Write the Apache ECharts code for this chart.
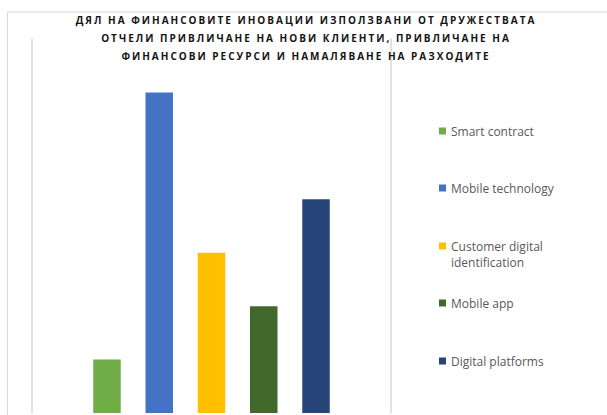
<!DOCTYPE html>
<html>
<head>
<meta charset="utf-8">
<script src="https://cdn.jsdelivr.net/npm/echarts@6/dist/echarts.min.js"></script>
<style>
  html, body { margin: 0; padding: 0; background: #ffffff; }
  #chart { width: 607px; height: 415px; }
  /* spaced capitals for the bold heading */
  #chart text[style*="bold"] { letter-spacing: 2px; }
</style>
</head>
<body>
<div id="chart"></div>
<script>
// Innovation types and their values
const categories = ['Smart contract', 'Mobile technology', 'Customer digital identification', 'Mobile app', 'Digital platforms'];
const values = [1, 6, 3, 2, 4];
const colors = ['#70AD47', '#4472C4', '#FFC000', '#43682B', '#264478'];
const titleLines = [
  'ДЯЛ НА ФИНАНСОВИТЕ ИНОВАЦИИ ИЗПОЛЗВАНИ ОТ ДРУЖЕСТВАТА',
  'ОТЧЕЛИ ПРИВЛИЧАНЕ НА НОВИ КЛИЕНТИ, ПРИВЛИЧАНЕ НА',
  'ФИНАНСОВИ РЕСУРСИ И НАМАЛЯВАНЕ НА РАЗХОДИТЕ'
];
// vertical position of each legend entry
const legendTops = [123, 180, 222, 295, 353];

const chart = echarts.init(document.getElementById('chart'), null, { renderer: 'svg' });

const legendFont = { fontFamily: 'Open Sans', fontSize: 12, color: '#595959', lineHeight: 16 };

const legends = categories.map((name, i) => {
  const twoLine = name === 'Customer digital identification';
  return {
    data: [name],
    orient: 'vertical',
    left: 439,
    top: legendTops[i],
    itemWidth: 7,
    itemHeight: 7,
    itemGap: 0,
    icon: 'rect',
    padding: 0,
    selectedMode: false,
    // the long name wraps below its marker: an empty first line keeps the
    // marker beside the first written line
    formatter: twoLine ? '\nCustomer digital\nidentification' : '{name}',
    textStyle: legendFont
  };
});

chart.setOption({
  animation: false,
  backgroundColor: '#ffffff',
  title: {
    text: titleLines.join('\n'),
    left: 306,
    top: 11,
    textAlign: 'center',
    padding: 0,
    textStyle: {
      fontFamily: 'Open Sans',
      fontWeight: 'bold',
      fontSize: 10,
      lineHeight: 18,
      color: '#141414'
    }
  },
  legend: legends,
  graphic: [{
    type: 'rect',
    shape: { x: 7.5, y: 12, width: 700, height: 500 },
    style: { fill: 'none', stroke: '#d9d9d9', lineWidth: 1 },
    silent: true
  }],
  grid: { left: 32, right: 216, top: 39, bottom: 2 },
  xAxis: {
    type: 'category',
    data: [''],
    axisLine: { show: false },
    axisTick: { show: false },
    axisLabel: { show: false }
  },
  yAxis: [{
    type: 'value',
    min: 0,
    max: 7,
    position: 'left',
    axisLine: { show: true, lineStyle: { color: '#d9d9d9', width: 1.5 } },
    axisTick: { show: false },
    axisLabel: { show: false },
    splitLine: { show: false }
  }, {
    type: 'value',
    min: 0,
    max: 7,
    position: 'right',
    axisLine: { show: true, lineStyle: { color: '#d9d9d9', width: 1.5 } },
    axisTick: { show: false },
    axisLabel: { show: false },
    splitLine: { show: false }
  }],
  series: categories.map((name, i) => ({
    name: name,
    type: 'bar',
    barWidth: 27.5,
    barGap: '90%',
    data: [values[i]],
    itemStyle: { color: colors[i] }
  }))
});
</script>
</body>
</html>
